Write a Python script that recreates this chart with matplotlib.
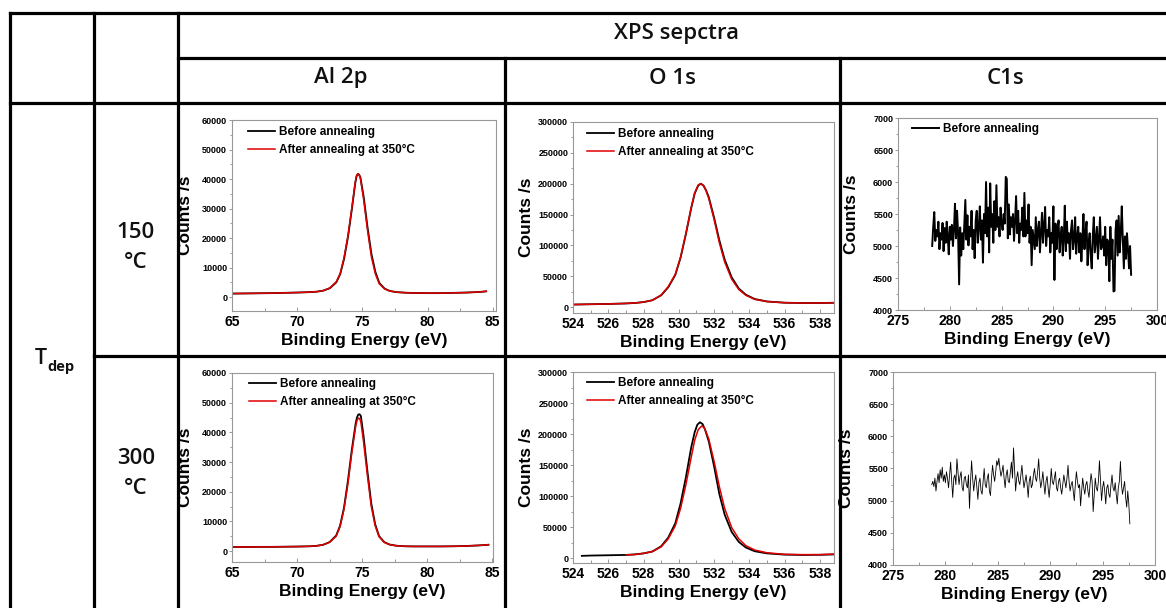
import matplotlib
matplotlib.use("Agg")
import matplotlib.pyplot as plt
import numpy as np

plt.rcParams['font.family'] = ['Liberation Sans', 'DejaVu Sans']

W, H = 1166, 608

# ---- data ----
# Al 2p, Tdep 150 C
al1_x = [65, 66, 67, 68, 69, 70, 71, 71.5, 72, 72.5, 73, 73.3, 73.6, 73.9, 74.2, 74.45, 74.55, 74.65, 74.75,
         74.85, 75.1, 75.4, 75.7, 76.0, 76.3, 76.7, 77.1, 77.6, 78.3, 79, 80, 81, 82, 83, 84, 84.5]
al1_before = [1200, 1250, 1300, 1350, 1450, 1550, 1700, 1850, 2200, 3000, 5000, 7800, 13000, 20500, 30000,
              38500, 40900, 41700, 41500, 40500, 34000, 23500, 14500, 8500, 4800, 2900, 2100, 1700, 1500,
              1400, 1350, 1350, 1450, 1550, 1750, 1950]
al1_after = [1200, 1250, 1300, 1350, 1450, 1550, 1700, 1850, 2200, 3100, 5200, 8000, 13500, 21000, 30500,
             38800, 41100, 41800, 41500, 40300, 33000, 22500, 13500, 7800, 4500, 2800, 2050, 1700, 1500,
             1400, 1350, 1350, 1450, 1550, 1750, 2000]

# Al 2p, Tdep 300 C
al2_x = [65, 66, 67, 68, 69, 70, 71, 71.5, 72, 72.5, 73, 73.3, 73.6, 73.9, 74.2, 74.5, 74.6, 74.7, 74.8,
         74.9, 75.1, 75.4, 75.7, 76.0, 76.3, 76.7, 77.1, 77.6, 78.3, 79, 80, 81, 82, 83, 84, 84.7]
al2_before = [1350, 1350, 1400, 1400, 1450, 1500, 1600, 1750, 2100, 3000, 5200, 8500, 14500, 23500, 34000,
              43000, 45000, 46000, 46100, 45500, 39000, 27000, 16000, 9000, 5000, 3000, 2200, 1800, 1600,
              1550, 1550, 1550, 1600, 1700, 1900, 2100]
al2_after = [1350, 1350, 1400, 1400, 1450, 1500, 1600, 1750, 2100, 3000, 5000, 8200, 14000, 22500, 33000,
             42000, 43900, 44800, 44700, 43500, 37000, 25500, 15000, 8500, 4800, 2900, 2150, 1800, 1600,
             1550, 1550, 1550, 1600, 1700, 1900, 2150]

# O 1s, Tdep 150 C
o1_x = [524, 525, 526, 527, 527.5, 528, 528.5, 529, 529.4, 529.8, 530.1, 530.4, 530.7, 530.9, 531.1, 531.25,
        531.4, 531.55, 531.7, 532.0, 532.3, 532.6, 533.0, 533.4, 533.8, 534.3, 535, 536, 537, 538, 539]
o1_before = [4000, 4500, 5000, 5800, 6500, 8000, 11000, 19000, 32000, 52000, 80000, 118000, 160000,
             184000, 197000, 200000, 197000, 189000, 178000, 145000, 108000, 77000, 48000, 30000, 20000,
             13000, 9000, 7000, 6500, 6500, 7000]
o1_after = [4000, 4500, 5000, 5800, 6500, 8000, 11000, 19500, 33000, 53000, 81000, 119000, 161000,
            185000, 198000, 200000, 196500, 188000, 176000, 142000, 104000, 73000, 45000, 28500, 19000,
            12500, 8800, 7000, 6500, 6500, 7000]

# O 1s, Tdep 300 C
o2_x_before = [524.5, 525, 526, 527, 527.5, 528, 528.5, 529, 529.4, 529.8, 530.1, 530.4, 530.7, 530.9,
               531.05, 531.2, 531.35, 531.5, 531.7, 532.0, 532.3, 532.6, 533.0, 533.4, 533.8, 534.3, 535,
               536, 537, 538, 539]
o2_before = [3500, 4000, 4500, 5000, 5800, 7500, 10500, 19000, 33000, 56000, 88000, 130000, 178000,
             203000, 215000, 219000, 216000, 206000, 188000, 148000, 103000, 70000, 42000, 26000, 17000,
             11000, 7500, 5500, 5000, 5200, 6000]
o2_x_after = [527, 527.5, 528, 528.5, 529, 529.4, 529.8, 530.1, 530.4, 530.7, 530.9, 531.1, 531.3, 531.45,
              531.7, 532.0, 532.3, 532.6, 533.0, 533.4, 533.8, 534.3, 535, 536, 537, 538, 539]
o2_after = [5000, 5800, 7500, 10500, 18000, 31000, 52000, 80000, 118000, 162000, 190000, 207000, 213000,
            210000, 192000, 156000, 115000, 80000, 49000, 31000, 20000, 13000, 8500, 6000, 5500, 5500, 6500]

# C1s, Tdep 150 C (0.1 eV steps from 278.3 eV)
c1_start, c1_step = 278.3, 0.1
c1_before = [5000, 5300, 5530, 5080, 5250, 5150, 5380, 4950, 5200, 5100,
             5360, 4920, 5280, 5050, 5380, 5150, 4870, 5300, 5100, 5330,
             5000, 5250, 5660, 5120, 5550, 5200, 4400, 5290, 4850, 5200,
             4950, 5350, 5720, 5100, 5480, 5010, 5300, 5150, 5550, 4950,
             5250, 4810, 5400, 5550, 5050, 5300, 5620, 5100, 5400, 4740,
             5500, 5200, 6000, 5150, 5600, 4900, 5980, 5300, 5500, 5050,
             5700, 5250, 5950, 5300, 5450, 5150, 5600, 5350, 5250, 5500,
             5350, 6080, 6050, 5120, 5650, 5180, 5450, 5300, 5500, 5080,
             5400, 5780, 5200, 5550, 5050, 5350, 5250, 5600, 5150, 5830,
             5150, 5400, 5200, 5650, 5050, 5300, 4700, 5250, 5100, 4950,
             5450, 5000, 5250, 5380, 4900, 5200, 5520, 5050, 5300, 5610,
             5000, 5250, 5150, 5450, 4900, 5200, 5050, 5620, 4470, 5350,
             4950, 5250, 5400, 4900, 5150, 5300, 4850, 5100, 5630, 4920,
             5380, 5050, 5200, 4800, 5250, 5400, 4950, 5100, 5450, 4880,
             5150, 5300, 4900, 5200, 4760, 5100, 5500, 4950, 5200, 5380,
             4700, 5050, 5200, 4850, 4650, 5150, 5450, 4900, 5100, 5300,
             4800, 5100, 5450, 4950, 5000, 5150, 4850, 5300, 4700, 5100,
             5050, 4450, 5300, 4800, 5100, 4290, 4300, 5250, 5400, 4850,
             5470, 4900, 5200, 5620, 5100, 4650, 5150, 4800, 5200, 4950,
             4650, 5000, 4550]

# C1s, Tdep 300 C (0.1 eV steps from 278.7 eV)
c2_start, c2_step = 278.7, 0.1
c2_before = [5250, 5300, 5220, 5350, 5150, 5300, 5420, 5280, 5480, 5350,
             5520, 5300, 5400, 5280, 5450, 5350, 5200, 5400, 5600, 5300,
             5050, 5350, 5400, 5250, 5650, 5450, 5250, 5380, 5450, 5200,
             5150, 5350, 5380, 5250, 5200, 5400, 4880, 5300, 5620, 5350,
             5150, 5300, 5400, 5200, 5020, 5280, 5350, 5150, 5100, 5300,
             5500, 5250, 5200, 5350, 5420, 5150, 5080, 5350, 5550, 5400,
             5300, 5450, 5620, 5550, 5660, 5500, 5380, 5450, 5550, 5350,
             5200, 5400, 5480, 5300, 5280, 5450, 5600, 5350, 5820, 5500,
             5150, 5350, 5450, 5300, 5250, 5400, 5550, 5350, 5200, 5300,
             5400, 5250, 5050, 5300, 5380, 5200, 5250, 5400, 5500, 5350,
             5300, 5450, 5650, 5350, 5200, 5300, 5450, 5250, 5100, 5300,
             5380, 5200, 5050, 5250, 5500, 5300, 5250, 5350, 5450, 5200,
             5150, 5300, 5350, 5200, 5100, 5250, 5400, 5300, 5200, 5350,
             5550, 5300, 5150, 5250, 5300, 5150, 5000, 5250, 5450, 5300,
             5200, 5250, 4920, 5150, 5350, 5200, 5100, 5250, 5300, 5150,
             5050, 5250, 5420, 5300, 4830, 5100, 5350, 5200, 5150, 5300,
             5620, 5300, 5000, 5200, 5300, 5150, 4950, 5200, 5250, 5100,
             5050, 5250, 5400, 5200, 5150, 5280, 5100, 4950, 5200, 5300,
             5610, 5250, 5100, 5200, 5300, 5050, 4900, 5150, 4950, 4640]

RED = '#e00000'


def box(l, r, t, b):
    return [l / W, 1 - b / H, (r - l) / W, (b - t) / H]


fig = plt.figure(figsize=(W / 100, H / 100), dpi=100)

# ---- table grid ----
bg = fig.add_axes([0, 0, 1, 1])
bg.set_xlim(0, W)
bg.set_ylim(H, 0)
bg.axis('off')
lw_tab = 2.3
for x, y0 in [(10, 13), (94, 13), (178, 13), (505, 58), (840, 58)]:
    bg.plot([x, x], [y0, H + 10], color='black', lw=lw_tab, solid_capstyle='projecting')
for y, x0 in [(13, 10), (58, 178), (103, 10), (356, 94)]:
    bg.plot([x0, W + 10], [y, y], color='black', lw=lw_tab, solid_capstyle='projecting')

hfont = dict(family=['Open Sans', 'DejaVu Sans'], fontweight='semibold', color='#111111')
bg.text(676, 33, 'XPS sepctra', ha='center', va='center', fontsize=16, **hfont)
bg.text(341, 78, 'Al 2p', ha='center', va='center', fontsize=16, **hfont)
bg.text(672, 78, 'O 1s', ha='center', va='center', fontsize=16, **hfont)
bg.text(1005, 78, 'C1s', ha='center', va='center', fontsize=16, **hfont)
bg.text(136, 232, '150', ha='center', va='center', fontsize=16, **hfont)
bg.text(136, 263, '\u00b0C', ha='center', va='center', fontsize=16, **hfont)
bg.text(136, 459, '300', ha='center', va='center', fontsize=16, **hfont)
bg.text(136, 489, '\u00b0C', ha='center', va='center', fontsize=16, **hfont)
bg.text(41, 358, 'T', ha='center', va='center', fontsize=15.5, **hfont)
bg.text(47, 367, 'dep', ha='left', va='center', fontsize=10.5,
        family=['Open Sans', 'DejaVu Sans'], fontweight='bold', color='#111111')


def style_axis(ax, xlim, ylim, xmaj, ymaj):
    ax.set_xlim(*xlim)
    ax.set_ylim(*ylim)
    ax.set_xticks(np.arange(xlim[0], xlim[1] + 1e-9, xmaj))
    ax.set_xticks(np.arange(xlim[0], xlim[1], xmaj / 2), minor=True)
    y0 = 0 if ylim[0] < 0 else ylim[0]
    ax.set_yticks(np.arange(y0, ylim[1] + 1, ymaj))
    ax.set_yticks(np.arange(y0, ylim[1] + 1, ymaj / 2), minor=True)
    for s in ax.spines.values():
        s.set_color('#999999')
        s.set_linewidth(0.8)
    ax.tick_params(axis='both', which='both', color='#888888', width=0.6)
    ax.tick_params(axis='x', which='major', direction='in', length=3, labelsize=10, pad=3)
    ax.tick_params(axis='x', which='minor', direction='in', length=2)
    ax.tick_params(axis='y', which='major', direction='out', length=2.5, labelsize=6.5, pad=1)
    ax.tick_params(axis='y', which='minor', direction='out', length=1.5)
    for lab in ax.get_xticklabels() + ax.get_yticklabels():
        lab.set_fontweight('bold')
    ax.set_xlabel('Binding Energy (eV)', fontsize=12.5, fontweight='bold')
    ax.set_ylabel('Counts /s', fontsize=12.5, fontweight='bold')
    ax.xaxis.label.set_verticalalignment('center')
    ax.yaxis.label.set_verticalalignment('center')
    ax.xaxis.set_label_coords(0.5, -0.155)
    ax.yaxis.set_label_coords(-0.178, 0.5)


def add_legend(ax, x0, y0):
    ax.legend(loc='upper left', bbox_to_anchor=(x0, y0), frameon=False,
              prop=dict(weight='bold', size=8.5), handlelength=2.3, handletextpad=0.3,
              labelspacing=0.5, borderpad=0, borderaxespad=0)


# ---- Al 2p ----
ax = fig.add_axes(box(232, 496, 120, 311))
ax.plot(al1_x, al1_before, color='black', lw=1.3, label='Before annealing')
ax.plot(al1_x, al1_after, color=RED, lw=1.1, label='After annealing at 350\u00b0C')
style_axis(ax, (65, 85.25), (-4700, 60000), 5, 10000)
add_legend(ax, 0.06, 0.97)

ax = fig.add_axes(box(232, 493, 373, 562))
ax.plot(al2_x, al2_before, color='black', lw=1.3, label='Before annealing')
ax.plot(al2_x, al2_after, color=RED, lw=1.1, label='After annealing at 350\u00b0C')
style_axis(ax, (65, 85.05), (-3700, 60000), 5, 10000)
add_legend(ax, 0.065, 0.975)

# ---- O 1s ----
ax = fig.add_axes(box(573, 834, 122, 313))
ax.plot(o1_x, o1_before, color='black', lw=1.3, label='Before annealing')
ax.plot(o1_x, o1_after, color=RED, lw=1.1, label='After annealing at 350\u00b0C')
style_axis(ax, (524, 538.8), (-9700, 300000), 2, 50000)
add_legend(ax, 0.054, 0.97)

ax = fig.add_axes(box(573, 834, 372, 563))
ax.plot(o2_x_before, o2_before, color='black', lw=1.3, label='Before annealing')
ax.plot(o2_x_after, o2_after, color=RED, lw=1.1, label='After annealing at 350\u00b0C')
style_axis(ax, (524, 538.8), (-8000, 300000), 2, 50000)
add_legend(ax, 0.054, 0.975)

# ---- C1s ----
c1_x = c1_start + c1_step * np.arange(len(c1_before))
ax = fig.add_axes(box(898, 1157, 118, 310))
ax.plot(c1_x, c1_before, color='black', lw=1.4, label='Before annealing')
style_axis(ax, (275, 300), (4000, 7000), 5, 500)
add_legend(ax, 0.054, 0.975)

c2_x = c2_start + c2_step * np.arange(len(c2_before))
ax = fig.add_axes(box(893, 1155, 372, 565))
ax.plot(c2_x, c2_before, color='black', lw=0.6)
style_axis(ax, (275, 300), (4000, 7000), 5, 500)

fig.savefig('out.png', dpi=100)
